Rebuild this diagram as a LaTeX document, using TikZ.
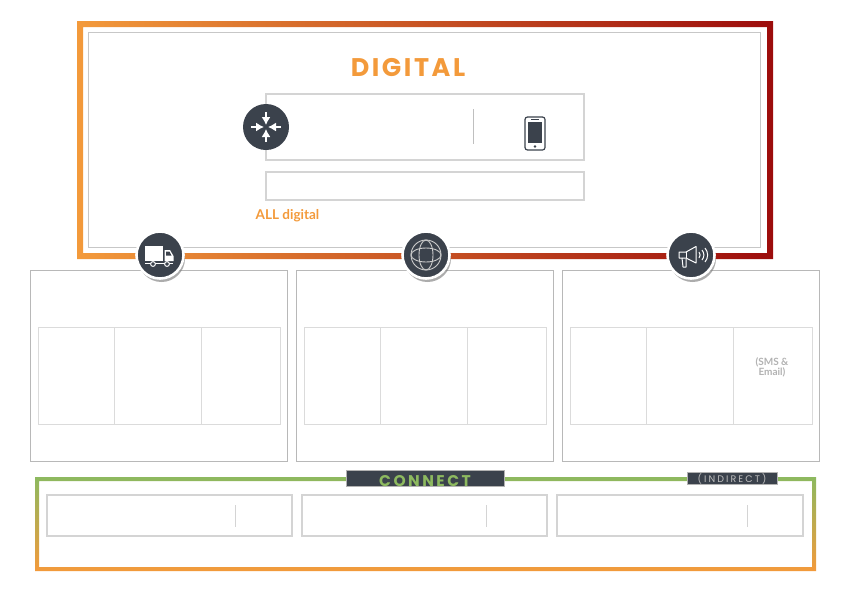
\documentclass[tikz,border=0pt]{standalone}
\usepackage{fontspec}
\setmainfont{Lato}
\newfontfamily\titlefont[LetterSpace=10]{Poppins}
\newfontfamily\tagfont[LetterSpace=16]{Poppins}
\usetikzlibrary{shadows,arrows.meta,calc}
\definecolor{slate}{HTML}{3B424C}
\definecolor{tangerine}{HTML}{F39A3B}
\definecolor{rust}{HTML}{C9501F}
\definecolor{crimson}{HTML}{9C0C0C}
\definecolor{leaf}{HTML}{8DB95F}
\tikzset{
  box/.style={draw=black!17,line width=1.2pt},
  panel/.style={draw=black!28,line width=.8pt},
  cell/.style={draw=black!14,line width=.8pt},
  badge/.style={circle,fill=slate,draw=white,line width=2.6pt,minimum size=47pt,inner sep=0pt,
    drop shadow={shadow xshift=1.5pt,shadow yshift=-3.5pt,opacity=.65}},
  icon/.style={draw=white,line width=1pt},
  tag/.style={fill=slate,draw=black!30,line width=.4pt,inner sep=0pt},
}
\begin{document}
\begin{tikzpicture}[x=1pt,y=-1pt]
\useasboundingbox (0,0) rectangle (850,592);

% Digital
 \path[left color=tangerine,middle color=rust,right color=crimson,even odd rule]
   (77,21) rectangle (773,259) (83,27) rectangle (767,253);
 \draw[draw=black!22,line width=.9pt] (88,32) rectangle (760,247);
 \node (digital) at (408,68) {\titlefont\bfseries\fontsize{25.5}{25.5}\selectfont\color{tangerine}DIGITAL};
 \draw[box] (266,94) rectangle (584,160);
 \draw[box] (266,172) rectangle (584,200);
 \draw[draw=black!25,line width=.8pt] (473,109) -- (473,144);
 \node (all) at (287.5,215.5) {\fontsize{13.5}{13.5}\selectfont\bfseries\color{tangerine}ALL digital};

% Phone
 \draw[draw=slate,line width=1.2pt,rounded corners=2.5pt] (525,117) rectangle (545,150);
 \fill[slate] (528,122) rectangle (542,143);
 \fill[slate] (535,146.5) circle (1.3);
 \draw[draw=slate,line width=.6pt] (531,119.5) -- (539,119.5);

% Merge icon
 \node[circle,fill=slate,minimum size=46pt,inner sep=0pt] (merge) at (266,127) {};
 \foreach \dx/\dy in {1/0,-1/0,0/1,0/-1}
   \draw[draw=white,line width=1.4pt,-{Latex[length=8pt,width=9pt]}]
     ($(merge)+(15*\dx,15*\dy)$) -- ($(merge)+(2*\dx,2*\dy)$);

% Panels
 \foreach \i in {0,1,2} {
   \begin{scope}[xshift=\i*266pt]
     \draw[panel] (30,270) rectangle (287,461);
     \draw[cell] (38,327) rectangle (280,424);
     \draw[cell] (114,327) -- (114,424);
     \draw[cell] (201,327) -- (201,424);
   \end{scope}
 }
 \node[align=center,font=\fontsize{10}{10}\selectfont\bfseries,text=black!30] (sms) at (772,367) {(SMS \&\\Email)};

% Badges
 \node[badge] (truck) at (160,255) {};
 \node[badge] (globe) at (426,255) {};
 \node[badge] (horn) at (691,255) {};

% Truck
 \fill[white] (145,246) rectangle (163,261);
 \fill[white] (164.5,250) -- (170,250) -- (173.5,256) -- (173.5,261) -- (164.5,261) -- cycle;
 \fill[slate] (166,251.5) -- (169.5,251.5) -- (171.5,255.5) -- (166,255.5) -- cycle;
 \draw[draw=white,line width=.9pt] (145,263.5) -- (173,263.5);
 \filldraw[fill=slate,draw=white,line width=1pt] (153,264) circle (2.4);
 \filldraw[fill=slate,draw=white,line width=1pt] (167,264) circle (2.4);

% Globe
 \draw[draw=black!20,line width=.9pt] (globe) circle (15);
 \draw[draw=black!20,line width=.9pt] (globe) ellipse (7 and 15);
 \draw[draw=black!20,line width=.9pt] (globe) ellipse (15 and 7);

% Horn
 \draw[icon,line join=round] (679,252) -- (686,252) -- (696,246.5) -- (696,263) -- (686,258) -- (679,258) -- cycle;
 \draw[icon] (686,252) -- (686,258);
 \draw[icon,line join=round] (682,258) -- (683,267) -- (686,267) -- (686,259);
 \draw[icon] (699,252) to[bend left=40] (699,258);
 \draw[icon] (702,250) to[bend left=40] (702,260);
 \draw[icon] (705,248) to[bend left=40] (705,262);

% Connect
 \path[top color=leaf,bottom color=tangerine,even odd rule,shading angle=0]
   (35,477) rectangle (816,571) (39,481) rectangle (812,567);
 \draw[box] (47,495) rectangle (292,536);
 \draw[box] (302,495) rectangle (547,536);
 \draw[box] (557,495) rectangle (803,536);
 \draw[box,line width=.9pt] (235,505) -- (235,527);
 \draw[box,line width=.9pt] (486,505) -- (486,527);
 \draw[box,line width=.9pt] (747,505) -- (747,527);
 \draw[tag] (346,470) rectangle (504,486);
 \draw[tag] (687,472) rectangle (777,484);
 \begin{scope}
   \clip (346,470) rectangle (504,486);
   \node (connect) at (425,481) {\tagfont\bfseries\fontsize{15.5}{15.5}\selectfont\color{leaf}CONNECT};
 \end{scope}
 \node (indirect) at (732,478.5) {\tagfont\addfontfeature{LetterSpace=22}\fontsize{9.5}{9.5}\selectfont\color{black!25}(INDIRECT)};

\end{tikzpicture}
\end{document}
